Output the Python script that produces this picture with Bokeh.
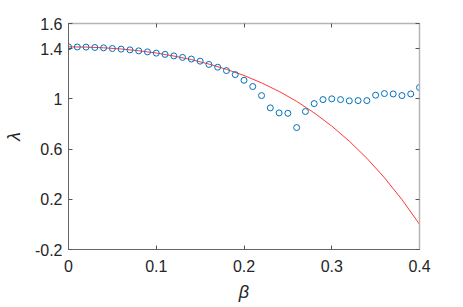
from bokeh.plotting import figure
from bokeh.models import Range1d, FixedTicker, LinearAxis, CustomJSTickFormatter, ColumnDataSource
from bokeh.embed import file_html
from bokeh.resources import INLINE

# Blue circles: numerical lambda at beta = 0 .. 0.40 step 0.01
beta_pts = [0.00, 0.01, 0.02, 0.03, 0.04, 0.05, 0.06, 0.07, 0.08, 0.09,
            0.10, 0.11, 0.12, 0.13, 0.14, 0.15, 0.16, 0.17, 0.18, 0.19,
            0.20, 0.21, 0.22, 0.23, 0.24, 0.25, 0.26, 0.27, 0.28, 0.29,
            0.30, 0.31, 0.32, 0.33, 0.34, 0.35, 0.36, 0.37, 0.38, 0.39, 0.40]
lam_pts = [1.414, 1.413, 1.412, 1.409, 1.406, 1.401, 1.396, 1.390, 1.382, 1.374,
           1.364, 1.354, 1.342, 1.330, 1.317, 1.300, 1.274, 1.252, 1.225, 1.193,
           1.148, 1.098, 1.026, 0.928, 0.888, 0.885, 0.771, 0.899, 0.962, 0.994,
           1.000, 0.994, 0.984, 0.986, 0.986, 1.029, 1.042, 1.039, 1.026, 1.039, 1.090]

# Red curve: analytical lambda
beta_curve = [0.00, 0.02, 0.04, 0.06, 0.08, 0.10, 0.12, 0.14, 0.16, 0.18, 0.20,
              0.22, 0.24, 0.26, 0.28, 0.30, 0.32, 0.34, 0.36, 0.38, 0.40]
lam_curve = [1.414, 1.412, 1.4065, 1.397, 1.383, 1.365, 1.341, 1.3125, 1.277, 1.235, 1.186,
             1.127, 1.059, 0.980, 0.888, 0.783, 0.663, 0.527, 0.372, 0.198, 0.001]

x_ticks = [0, 0.1, 0.2, 0.3, 0.4]
y_ticks = [-0.2, 0.2, 0.6, 1, 1.4, 1.6]

FONT = "Liberation Sans"
TXT = "#262626"

p = figure(width=463, height=307, output_backend="svg", toolbar_location=None,
           x_range=Range1d(0, 0.4), y_range=Range1d(-0.2, 1.6),
           min_border_left=67, min_border_right=44, min_border_top=23, min_border_bottom=58)
p.xgrid.visible = False
p.ygrid.visible = False
p.outline_line_color = None
p.background_fill_color = "white"
p.border_fill_color = "white"

fmt = CustomJSTickFormatter(code="return (Math.round(tick*100)/100).toString();")

def style_axis(ax, ticks, labels=True):
    ax.ticker = FixedTicker(ticks=ticks)
    ax.major_tick_in = 4
    ax.major_tick_out = 0
    ax.minor_tick_line_color = None
    ax.major_tick_line_color = "#555555"
    ax.formatter = fmt
    if labels:
        ax.axis_line_color = "#666666"
        ax.major_label_text_font = FONT
        ax.major_label_text_font_size = "16px"
        ax.major_label_text_color = TXT
    else:
        ax.axis_line_color = "#b5b5b5"
        ax.axis_line_width = 1.5
        ax.major_label_text_font_size = "0px"
        ax.major_label_text_alpha = 0

style_axis(p.xaxis[0], x_ticks)
style_axis(p.yaxis[0], y_ticks)
p.xaxis[0].major_label_standoff = 10
p.yaxis[0].major_label_standoff = 6
p.xaxis[0].axis_label = "β"
p.yaxis[0].axis_label = "λ"
for ax in (p.xaxis[0], p.yaxis[0]):
    ax.axis_label_text_font = FONT
    ax.axis_label_text_font_size = "18px"
    ax.axis_label_text_font_style = "italic"
    ax.axis_label_text_color = TXT
p.xaxis[0].axis_label_standoff = 7
p.yaxis[0].axis_label_standoff = 8

top = LinearAxis()
style_axis(top, x_ticks, labels=False)
p.add_layout(top, "above")
right = LinearAxis()
style_axis(right, y_ticks, labels=False)
p.add_layout(right, "right")

curve = ColumnDataSource(dict(x=beta_curve, y=lam_curve))
pts = ColumnDataSource(dict(x=beta_pts, y=lam_pts))
p.line("x", "y", source=curve, line_color="#ff2020", line_width=0.9)
p.scatter("x", "y", source=pts, marker="circle", size=6, fill_color=None,
          line_color="#0072BD", line_width=1)

open("out.html", "w").write(file_html(p, INLINE))
